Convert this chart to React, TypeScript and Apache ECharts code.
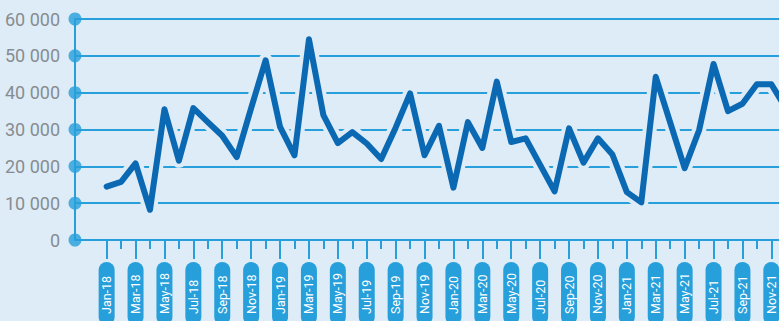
import React, { useEffect, useRef } from 'react';
import * as echarts from 'echarts';

// Monthly categories, Jan-18 to Dec-21
const months: string[] = [
  'Jan-18', 'Feb-18', 'Mar-18', 'Apr-18', 'May-18', 'Jun-18', 'Jul-18', 'Aug-18', 'Sep-18', 'Oct-18', 'Nov-18', 'Dec-18',
  'Jan-19', 'Feb-19', 'Mar-19', 'Apr-19', 'May-19', 'Jun-19', 'Jul-19', 'Aug-19', 'Sep-19', 'Oct-19', 'Nov-19', 'Dec-19',
  'Jan-20', 'Feb-20', 'Mar-20', 'Apr-20', 'May-20', 'Jun-20', 'Jul-20', 'Aug-20', 'Sep-20', 'Oct-20', 'Nov-20', 'Dec-20',
  'Jan-21', 'Feb-21', 'Mar-21', 'Apr-21', 'May-21', 'Jun-21', 'Jul-21', 'Aug-21', 'Sep-21', 'Oct-21', 'Nov-21', 'Dec-21',
];

const values: number[] = [
  14500, 15800, 20800, 8200, 35500, 21500, 35800, 32000, 28300, 22500, 35800, 48800,
  30700, 23000, 54500, 33900, 26300, 29300, 26200, 22000, 30500, 39800, 23000, 31000,
  14200, 32000, 25000, 43000, 26600, 27600, 20400, 13200, 30300, 21000, 27600, 23200,
  13000, 10200, 44300, 31900, 19500, 29800, 47800, 35000, 37000, 42300, 42300, 35800,
];

const yTicks: number[] = [0, 10000, 20000, 30000, 40000, 50000, 60000];

const BG = '#ddecf7';
const AXIS = '#279fdb';
const LINE = '#0b69b3';
const FONT = 'Roboto, "Liberation Sans", sans-serif';

const X_MIN = -2.19;
const X_MAX = 46.53;

const labelIdx = months.map((_, i) => i).filter((i) => i % 2 === 0 && i <= 46);
const minorIdx = months.map((_, i) => i).filter((i) => i % 2 === 1);

export default function App() {
  const ref = useRef<HTMLDivElement>(null);

  useEffect(() => {
    document.body.style.margin = '0';
    if (!ref.current) return;
    const chart = echarts.init(ref.current, undefined, { renderer: 'svg' });
    const points = values.map((v, i) => [i, v]);

    chart.setOption({
      animation: false,
      backgroundColor: BG,
      grid: { left: 75, right: 0, top: 19, bottom: 81, containLabel: false, outerBoundsMode: 'none' },
      xAxis: [
        {
          type: 'value',
          position: 'bottom',
          min: X_MIN,
          max: X_MAX,
          axisLine: { show: true, onZero: false, lineStyle: { color: AXIS, width: 2 } },
          axisTick: { show: true, customValues: minorIdx, length: 9, lineStyle: { color: AXIS, width: 2 } },
          axisLabel: { show: false },
          splitLine: { show: false },
        },
        {
          type: 'value',
          position: 'bottom',
          min: X_MIN,
          max: X_MAX,
          axisLine: { show: false, onZero: false },
          axisTick: { show: true, customValues: labelIdx, length: 19, lineStyle: { color: AXIS, width: 2 } },
          axisLabel: {
            show: true,
            customValues: labelIdx,
            rotate: 90,
            margin: 22,
            formatter: (v: number) => `{t|${months[Math.round(v)]}}`,
            backgroundColor: AXIS,
            borderRadius: 8,
            padding: [0, 4, 0, 11],
            rich: {
              t: {
                width: 48,
                align: 'left',
                color: '#ffffff',
                fontSize: 12.5,
                lineHeight: 16,
                fontFamily: FONT,
              },
            },
          },
          splitLine: { show: false },
        },
      ],
      yAxis: {
        type: 'value',
        min: 0,
        max: 60000,
        interval: 10000,
        axisLine: { show: true, onZero: false, lineStyle: { color: AXIS, width: 2 } },
        axisTick: { show: false },
        axisLabel: {
          color: '#878c91',
          fontSize: 18,
          fontFamily: FONT,
          margin: 15,
          formatter: (v: number) => (v === 0 ? '0' : `${v / 1000} 000`),
        },
        splitLine: { show: true, lineStyle: { color: AXIS, width: 2 } },
      },
      series: [
        {
          type: 'scatter',
          xAxisIndex: 0,
          data: yTicks.map((t) => [X_MIN, t]),
          symbol: 'circle',
          symbolSize: 13,
          itemStyle: { color: AXIS },
          clip: false,
          silent: true,
          z: 5,
        },
        {
          type: 'line',
          xAxisIndex: 0,
          data: points,
          showSymbol: false,
          lineStyle: { color: BG, width: 14, cap: 'round', join: 'round' },
          z: 3,
        },
        {
          type: 'line',
          xAxisIndex: 0,
          data: points,
          showSymbol: false,
          lineStyle: { color: LINE, width: 6, cap: 'round', join: 'round' },
          z: 4,
        },
      ],
    });

    return () => chart.dispose();
  }, []);

  return (
    <div
      ref={ref}
      style={{ position: 'absolute', left: 0, top: 0, width: 779, height: 321 }}
    />
  );
}
